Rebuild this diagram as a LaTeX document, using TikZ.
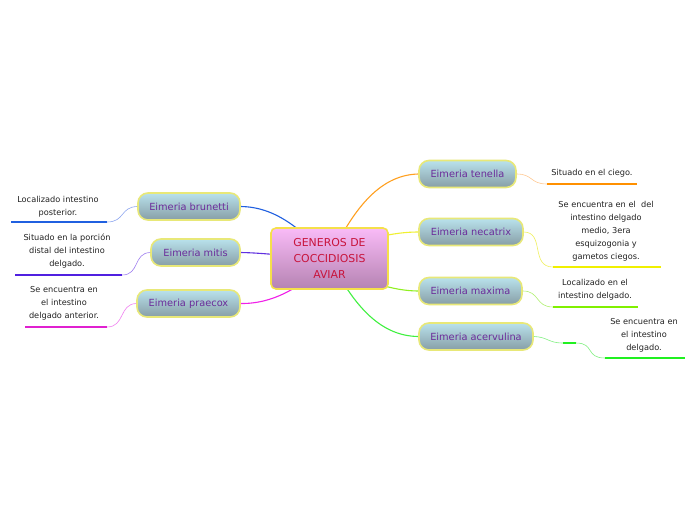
\documentclass[tikz,border=0pt]{standalone}
\usepackage{fontspec}
\setmainfont{DejaVu Sans}
\usetikzlibrary{backgrounds}
\definecolor{childtxt}{HTML}{6B2C9A}
\definecolor{childtop}{HTML}{B9E2EC}
\definecolor{childbot}{HTML}{879EA6}
\definecolor{childbrd}{HTML}{E8E878}
\definecolor{ctop}{HTML}{F9BBF7}
\definecolor{cbot}{HTML}{B583B2}
\definecolor{cbrd}{HTML}{F5E04A}
\definecolor{ctxt}{HTML}{C8143C}
\definecolor{leaftxt}{HTML}{222222}
\definecolor{cBlue}{HTML}{1F5FE0}
\definecolor{cPurp}{HTML}{6030E0}
\definecolor{cMag}{HTML}{F020E8}
\definecolor{cOra}{HTML}{FFA020}
\definecolor{cYel}{HTML}{F0F030}
\definecolor{cLime}{HTML}{90F020}
\definecolor{cGrn}{HTML}{40F040}
\definecolor{lBlue}{HTML}{90A8F0}
\definecolor{lPurp}{HTML}{A080F0}
\definecolor{lMag}{HTML}{F080F0}
\definecolor{lOra}{HTML}{FFC890}
\definecolor{lYel}{HTML}{F0F060}
\definecolor{lLime}{HTML}{B0F070}
\definecolor{lGrn}{HTML}{80F080}
\definecolor{uBlue}{HTML}{2060E0}
\definecolor{uPurp}{HTML}{5020E0}
\definecolor{uMag}{HTML}{E020D0}
\definecolor{uOra}{HTML}{FF9000}
\definecolor{uYel}{HTML}{F0F000}
\definecolor{uLime}{HTML}{80F000}
\definecolor{uGrn}{HTML}{20F020}
\tikzset{
  central/.style={draw=cbrd, line width=1.6pt, rounded corners=5pt, top color=ctop, bottom color=cbot,
    minimum width=117pt, minimum height=61pt, align=center, text=ctxt, font=\fontsize{10.9}{16}\selectfont},
  child/.style={draw=childbrd, line width=1.6pt, rounded corners=10pt, top color=childtop, bottom color=childbot,
    minimum height=27pt, inner xsep=0pt, text=childtxt, font=\fontsize{9.8}{12}\selectfont},
  leaf/.style={align=center, text=leaftxt, inner sep=0pt, font=\fontsize{8.2}{13}\selectfont},
  mainline/.style={line width=1.1pt},
  leafline/.style={line width=0.6pt},
  underline/.style={line width=1.8pt}
}
\begin{document}
\begin{tikzpicture}[x=1pt,y=-1pt]
\useasboundingbox (0,0) rectangle (696,520);
% central
\node[central] (c) at (329.5,258.5) {GENEROS DE\\COCCIDIOSIS\\AVIAR};
% children
\node[child, minimum width=102pt] (brunetti) at (189,206.5) {Eimeria brunetti};
\node[child, minimum width=89pt] (mitis) at (195.5,252.5) {Eimeria mitis};
\node[child, minimum width=103pt] (praecox) at (188.5,303.5) {Eimeria praecox};
\node[child, minimum width=97pt] (tenella) at (467.5,174) {Eimeria tenella};
\node[child, minimum width=104pt] (necatrix) at (471,232) {Eimeria necatrix};
\node[child, minimum width=103pt] (maxima) at (470.5,291) {Eimeria maxima};
\node[child, minimum width=114pt] (acervulina) at (476,336.5) {Eimeria acervulina};
% leaves
\node[leaf] (lb) at (58,206.5) {Localizado intestino\\posterior.};
\node[leaf] (lm) at (67,251) {Situado en la porción\\distal del intestino\\delgado.};
\node[leaf] (lp) at (64,303) {Se encuentra en\\el intestino\\delgado anterior.};
\node[leaf] (lt) at (592,173) {Situado en el ciego.};
\node[leaf] (ln) at (606,231) {Se encuentra en el\ \ del\\intestino delgado\\medio, 3era\\esquizogonia y\\gametos ciegos.};
\node[leaf] (lx) at (595,289.5) {Localizado en el\\intestino delgado.};
\node[leaf] (la) at (644,335) {Se encuentra en\\el intestino\\delgado.};
% underline coordinates
\coordinate (ub1) at (11,222); \coordinate (ub2) at (107,222);
\coordinate (um1) at (15,275); \coordinate (um2) at (122,275);
\coordinate (up1) at (25,327); \coordinate (up2) at (107,327);
\coordinate (ut1) at (547,184); \coordinate (ut2) at (637,184);
\coordinate (un1) at (553,267); \coordinate (un2) at (661,267);
\coordinate (ux1) at (553,307); \coordinate (ux2) at (638,307);
\coordinate (ua1) at (605,358); \coordinate (ua2) at (685,358);
\coordinate (am1) at (563,343); \coordinate (am2) at (576,343);
\begin{scope}[on background layer]
\fill[white] (0,0) rectangle (696,520);
% central connectors
\draw[mainline, cBlue] (brunetti.east) .. controls (275,207) and (300,228) .. (c.center);
\draw[mainline, cPurp] (mitis.east) .. controls (270,253) and (300,258) .. (c.center);
\draw[mainline, cMag] (praecox.east) .. controls (275,304) and (305,285) .. (c.center);
\draw[mainline, cOra] (c.center) .. controls (352,212) and (378,175) .. (tenella.west);
\draw[mainline, cYel] (c.center) .. controls (360,238) and (395,232) .. (necatrix.west);
\draw[mainline, cLime] (c.center) .. controls (360,282) and (395,291) .. (maxima.west);
\draw[mainline, cGrn] (c.center) .. controls (352,302) and (378,336) .. (acervulina.west);
\end{scope}
% leaf connectors
\draw[leafline, lBlue] (brunetti.west) .. controls (120,207) and (125,222) .. (ub2);
\draw[leafline, lPurp] (mitis.west) .. controls (133,253) and (140,275) .. (um2);
\draw[leafline, lMag] (praecox.west) .. controls (119,304) and (125,327) .. (up2);
\draw[leafline, lOra] (tenella.east) .. controls (533,174) and (530,184) .. (ut1);
\draw[leafline, lYel] (necatrix.east) .. controls (545,232) and (530,267) .. (un1);
\draw[leafline, lLime] (maxima.east) .. controls (540,291) and (535,307) .. (ux1);
\draw[leafline, lGrn] (acervulina.east) .. controls (548,337) and (548,343) .. (am1);
\draw[leafline, lGrn] (am2) .. controls (595,343) and (585,358) .. (ua1);
\draw[line width=1.6pt, uGrn] (am1) -- (am2);
% underlines
\draw[underline, uBlue] (ub1) -- (ub2);
\draw[underline, uPurp] (um1) -- (um2);
\draw[underline, uMag] (up1) -- (up2);
\draw[underline, uOra] (ut1) -- (ut2);
\draw[underline, uYel] (un1) -- (un2);
\draw[underline, uLime] (ux1) -- (ux2);
\draw[underline, uGrn] (ua1) -- (ua2);
\end{tikzpicture}
\end{document}
